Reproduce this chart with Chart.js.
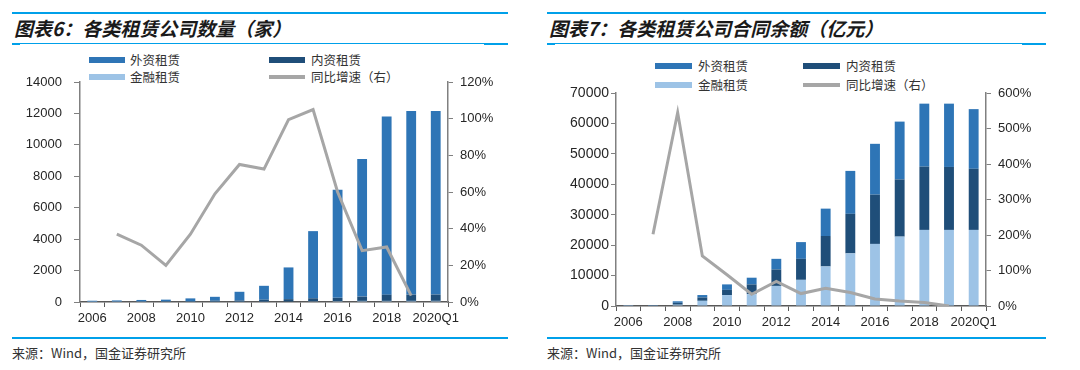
<!DOCTYPE html>
<html>
<head>
<meta charset="utf-8">
<script src="https://cdn.jsdelivr.net/npm/chart.js@4/dist/chart.umd.min.js"></script>
<style>
  body { margin: 0; background: #fff; }
  #page { position: relative; width: 1080px; height: 370px; overflow: hidden; font-family: "Noto Sans CJK SC", sans-serif; }
  .rule { position: absolute; background: #00a0e9; }
  .title { position: absolute; font-size: 19px; font-weight: bold; font-style: italic; color: #1a1a1a; white-space: nowrap; line-height: 24px; }
  .src { position: absolute; font-size: 13px; color: #333; white-space: nowrap; line-height: 16px; }
  .lg { position: absolute; font-size: 12.5px; color: #333; white-space: nowrap; line-height: 16px; }
  .sw { position: absolute; }
  canvas { position: absolute; top: 0; }
</style>
</head>
<body>
<div id="page">
  <!-- chart 6 frame -->
  <div class="rule" style="left:12px;top:12px;width:496px;height:2px"></div>
  <div class="title" style="left:14px;top:16px">图表6：各类租赁公司数量（家）</div>
  <div class="rule" style="left:12px;top:43px;width:496px;height:1px"></div>
  <div class="rule" style="left:12px;top:43px;width:8px;height:2px"></div>
  <div class="rule" style="left:484px;top:43px;width:24px;height:2px"></div>
  <div class="rule" style="left:12px;top:337px;width:496px;height:2px"></div>
  <div class="src" style="left:12px;top:345px">来源：Wind，国金证券研究所</div>

  <!-- chart 7 frame -->
  <div class="rule" style="left:547px;top:12px;width:499px;height:2px"></div>
  <div class="title" style="left:549px;top:16px">图表7：各类租赁公司合同余额（亿元）</div>
  <div class="rule" style="left:547px;top:43px;width:499px;height:1px"></div>
  <div class="rule" style="left:547px;top:43px;width:8px;height:2px"></div>
  <div class="rule" style="left:1022px;top:43px;width:24px;height:2px"></div>
  <div class="rule" style="left:547px;top:337px;width:499px;height:2px"></div>
  <div class="src" style="left:547px;top:345px">来源：Wind，国金证券研究所</div>

  <!-- legends -->
  <div class="sw" style="left:89px;top:57px;width:36px;height:6px;background:#2e75b6"></div>
  <div class="lg" style="left:130px;top:52px">外资租赁</div>
  <div class="sw" style="left:269px;top:57px;width:36px;height:6px;background:#1f4e79"></div>
  <div class="lg" style="left:311px;top:52px">内资租赁</div>
  <div class="sw" style="left:89px;top:74px;width:36px;height:6px;background:#9dc3e6"></div>
  <div class="lg" style="left:130px;top:69px">金融租赁</div>
  <div class="sw" style="left:269px;top:75px;width:36px;height:4px;background:#a6a6a6"></div>
  <div class="lg" style="left:311px;top:69px">同比增速（右）</div>

  <div class="sw" style="left:655px;top:63px;width:37px;height:6px;background:#2e75b6"></div>
  <div class="lg" style="left:698px;top:58px">外资租赁</div>
  <div class="sw" style="left:803px;top:63px;width:37px;height:6px;background:#1f4e79"></div>
  <div class="lg" style="left:846px;top:58px">内资租赁</div>
  <div class="sw" style="left:655px;top:82px;width:37px;height:6px;background:#9dc3e6"></div>
  <div class="lg" style="left:698px;top:77px">金融租赁</div>
  <div class="sw" style="left:803px;top:83px;width:37px;height:4px;background:#a6a6a6"></div>
  <div class="lg" style="left:846px;top:77px">同比增速（右）</div>

  <canvas id="c1" width="540" height="370" style="left:0px"></canvas>
  <canvas id="c2" width="540" height="370" style="left:540px"></canvas>
</div>
<script>
const years = ['2006', '2007', '2008', '2009', '2010', '2011', '2012', '2013',
  '2014', '2015', '2016', '2017', '2018', '2019', '2020Q1'];

// 图表6：公司数量（家）
const countFinance = [6, 10, 12, 17, 17, 20, 20, 23, 30, 47, 59, 69, 69, 70, 71];
const countDomestic = [20, 26, 37, 43, 45, 66, 80, 123, 152, 190, 204, 276, 397, 403, 404];
const countForeign = [54, 64, 81, 90, 168, 244, 550, 884, 2018, 4273, 6887, 8755, 11334, 11677, 11685];
const countGrowth = [null, 37, 31, 20, 37, 59, 75, 72.5, 99.5, 105, 60, 28, 30, 3.5, null];

// 图表7：合同余额（亿元）
const balFinance = [30, 80, 420, 1700, 3600, 3900, 6600, 8600, 13000, 17300, 20400, 22800, 25000, 25000, 25000];
const balDomestic = [40, 100, 630, 1100, 1700, 3200, 5400, 6900, 10000, 13000, 16200, 18800, 20800, 20700, 20100];
const balForeign = [30, 60, 500, 800, 1800, 2200, 3500, 5500, 9000, 14100, 16700, 19000, 20700, 20800, 19600];
const balGrowth = [null, 202, 545, 141, 88, 33, 69, 35, 50, 38, 20, 14, 10, 0, null];

const C_FOREIGN = '#2e75b6';
const C_DOMESTIC = '#1f4e79';
const C_FINANCE = '#9dc3e6';
const C_LINE = '#a6a6a6';
const tickFont = { family: '"Liberation Sans", Arial, sans-serif', size: 13 };
const tickColor = '#262626';

function makeChart(id, opts) {
  const barSet = (label, data, color) => ({
    type: 'bar', label, data, backgroundColor: color, order: 1,
    yAxisID: 'y', barPercentage: 0.4, categoryPercentage: 1.0,
  });
  return new Chart(document.getElementById(id).getContext('2d'), {
    data: {
      labels: years,
      datasets: [
        barSet('金融租赁', opts.finance, C_FINANCE),
        barSet('内资租赁', opts.domestic, C_DOMESTIC),
        barSet('外资租赁', opts.foreign, C_FOREIGN),
        {
          type: 'line', label: '同比增速（右）', data: opts.growth, yAxisID: 'y1',
          borderColor: C_LINE, borderWidth: 3, pointRadius: 0, tension: 0, order: 0,
        },
      ],
    },
    options: {
      responsive: false,
      animation: false,
      layout: { padding: opts.padding },
      plugins: { legend: { display: false }, tooltip: { enabled: false } },
      scales: {
        x: {
          stacked: true,
          grid: { offset: true, drawOnChartArea: false, tickLength: 5, color: '#595959', lineWidth: 1 },
          border: { color: '#595959', width: 1.5 },
          ticks: {
            autoSkip: false, maxRotation: 0, padding: 4, font: tickFont, color: tickColor,
            callback: (v, i) => (i % 2 === 0 ? years[i] : ''),
          },
          afterFit: (s) => { s.height = 30; },
        },
        y: {
          position: 'left', stacked: true, min: 0, max: opts.leftMax,
          grid: { drawOnChartArea: false, tickLength: opts.leftTick, color: '#808080' },
          border: { color: '#808080', width: 1.5 },
          ticks: {
            stepSize: opts.leftStep, padding: opts.leftPad, font: opts.leftFont || tickFont, color: tickColor,
            callback: (v) => String(v),
          },
          afterFit: (s) => { s.width = opts.leftWidth; },
        },
        y1: {
          position: 'right', min: 0, max: opts.rightMax,
          grid: { drawOnChartArea: false, tickLength: 5, color: '#808080' },
          border: { color: '#808080', width: 1.5 },
          ticks: { stepSize: opts.rightStep, padding: 7, font: tickFont, color: tickColor, callback: (v) => v + '%' },
          afterFit: (s) => { s.width = 60; },
        },
      },
    },
  });
}

makeChart('c1', {
  finance: countFinance, domestic: countDomestic, foreign: countForeign, growth: countGrowth,
  leftMax: 14000, leftStep: 2000, rightMax: 120, rightStep: 20,
  leftWidth: 80, leftTick: 6, leftPad: 12,
  padding: { left: 0, top: 82, right: 32, bottom: 38 },
});

makeChart('c2', {
  finance: balFinance, domestic: balDomestic, foreign: balForeign, growth: balGrowth,
  leftMax: 70000, leftStep: 10000, rightMax: 600, rightStep: 100,
  leftWidth: 76, leftTick: 5, leftPad: 2,
  leftFont: { family: '"Liberation Sans", Arial, sans-serif', size: 14 },
  padding: { left: 0, top: 93, right: 34, bottom: 34 },
});
</script>
</body>
</html>
